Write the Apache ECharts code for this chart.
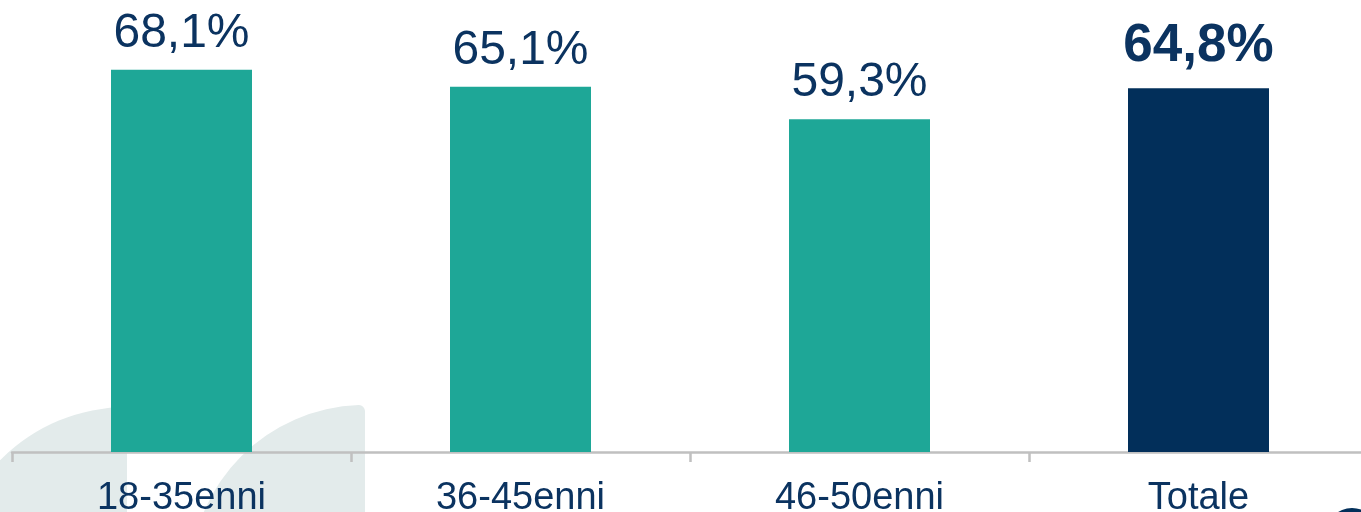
<!DOCTYPE html>
<html>
<head>
<meta charset="utf-8">
<style>
  html, body { margin: 0; padding: 0; background: #fff; }
  #chart { width: 1361px; height: 512px; }
</style>
<script src="https://cdn.jsdelivr.net/npm/echarts@6/dist/echarts.min.js"></script>
</head>
<body>
<div id="chart"></div>
<script>
// dati
var categories = ['18-35enni', '36-45enni', '46-50enni', 'Totale']
var values = [68.1, 65.1, 59.3, 64.8]
var totalIndex = 3

var teal = '#1ea797'
var navy = '#022f5a'
var textColor = '#0b3360'
var font = 'Arial, "Liberation Sans", sans-serif'

var chart = echarts.init(document.getElementById('chart'))

var data = values.map(function (v, i) {
    var item = { value: v }
    if (i === totalIndex) {
        item.itemStyle = { color: navy }
        item.label = { fontSize: 53, fontWeight: 'bold', distance: 15 }
    }
    return item
})

chart.setOption({
    animation: false,
    backgroundColor: '#fff',
    grid: { left: 12, width: 1356, top: 3, bottom: 60, containLabel: false, outerBoundsMode: 'none' },
    graphic: [
        { type: 'sector', z: -10, silent: true,
          shape: { cx: 127, cy: 585, r: 178, startAngle: Math.PI, endAngle: Math.PI * 1.5 },
          style: { fill: '#e3ebeb' } },
        { type: 'sector', z: -10, silent: true,
          shape: { cx: 365, cy: 580, r: 175, startAngle: Math.PI, endAngle: Math.PI * 1.5, cornerRadius: 6 },
          style: { fill: '#e3ebeb' } },
        { type: 'circle', z: -10, silent: true,
          shape: { cx: 1352, cy: 534, r: 26 },
          style: { fill: navy } }
    ],
    xAxis: {
        type: 'category',
        data: categories,
        axisLine: { lineStyle: { color: '#c0c0c0', width: 2.5 } },
        axisTick: { show: true, length: 10, lineStyle: { color: '#c0c0c0', width: 2.5 } },
        axisLabel: { color: textColor, fontSize: 38, fontFamily: font, margin: 28 }
    },
    yAxis: {
        type: 'value',
        min: 0,
        max: 80,
        show: false,
        splitLine: { show: false }
    },
    series: [{
        type: 'bar',
        data: data,
        barWidth: 141,
        itemStyle: { color: teal },
        label: {
            show: true,
            position: 'top',
            distance: 12,
            color: textColor,
            fontSize: 48,
            fontFamily: font,
            formatter: function (p) {
                return p.value.toFixed(1).replace('.', ',') + '%'
            }
        }
    }]
})
</script>
</body>
</html>
